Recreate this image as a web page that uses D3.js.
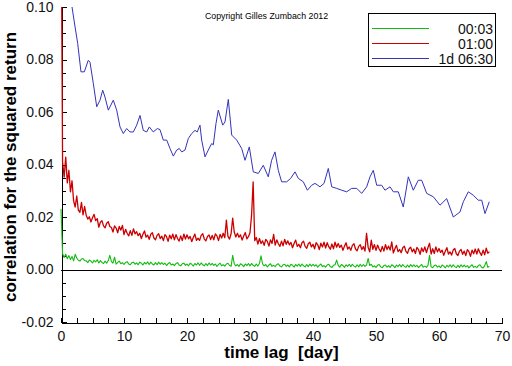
<!DOCTYPE html>
<html>
<head>
<meta charset="utf-8">
<script src="https://cdn.jsdelivr.net/npm/d3@7"></script>
<style>
  body { margin: 0; background: #fff; }
  svg { font-family: "Liberation Sans", Arial, sans-serif; }
</style>
</head>
<body>
<svg id="chart" width="512" height="366"></svg>
<script>
// axis ticks
var xTicks = [0, 10, 20, 30, 40, 50, 60, 70];
var yTicks = [-0.02, 0.00, 0.02, 0.04, 0.06, 0.08, 0.10];
var yTickLabels = ["-0.02", "0.00", "0.02", "0.04", "0.06", "0.08", "0.10"];

var seriesNames = ["00:03", "01:00", "1d 06:30"];

// lag step (days) of the dense series
var lagStep = 0.25;

// 00:03 return, one value every 0.25 day from lag 0
var greenValues = [
  0.0230, 0.0060, 0.0046, 0.0058, 0.0041, 0.0053, 0.0038, 0.0050,
  0.0033, 0.0058, 0.0044, 0.0035, 0.0032, 0.0040, 0.0042, 0.0034,
  0.0033, 0.0026, 0.0036, 0.0032, 0.0025, 0.0035, 0.0029, 0.0037,
  0.0025, 0.0034, 0.0027, 0.0023, 0.0032, 0.0024, 0.0034, 0.0054,
  0.0031, 0.0024, 0.0047, 0.0020, 0.0027, 0.0032, 0.0022, 0.0026,
  0.0019, 0.0027, 0.0030, 0.0021, 0.0018, 0.0026, 0.0028, 0.0020,
  0.0025, 0.0018, 0.0028, 0.0024, 0.0017, 0.0027, 0.0021, 0.0029,
  0.0019, 0.0028, 0.0021, 0.0017, 0.0026, 0.0018, 0.0028, 0.0020,
  0.0026, 0.0019, 0.0024, 0.0015, 0.0022, 0.0027, 0.0017, 0.0021,
  0.0015, 0.0023, 0.0026, 0.0017, 0.0014, 0.0022, 0.0024, 0.0016,
  0.0021, 0.0014, 0.0024, 0.0020, 0.0013, 0.0023, 0.0017, 0.0025,
  0.0016, 0.0025, 0.0018, 0.0014, 0.0023, 0.0015, 0.0025, 0.0017,
  0.0023, 0.0016, 0.0021, 0.0012, 0.0019, 0.0024, 0.0014, 0.0018,
  0.0013, 0.0021, 0.0024, 0.0015, 0.0012, 0.0054, 0.0022, 0.0014,
  0.0019, 0.0012, 0.0022, 0.0018, 0.0011, 0.0021, 0.0015, 0.0023,
  0.0014, 0.0023, 0.0016, 0.0012, 0.0021, 0.0013, 0.0023, 0.0052,
  0.0021, 0.0014, 0.0019, 0.0010, 0.0017, 0.0022, 0.0012, 0.0016,
  0.0011, 0.0019, 0.0022, 0.0013, 0.0010, 0.0018, 0.0020, 0.0012,
  0.0017, 0.0010, 0.0020, 0.0016, 0.0009, 0.0019, 0.0013, 0.0021,
  0.0012, 0.0021, 0.0014, 0.0010, 0.0019, 0.0011, 0.0021, 0.0013,
  0.0020, 0.0013, 0.0018, 0.0009, 0.0016, 0.0021, 0.0011, 0.0015,
  0.0009, 0.0017, 0.0020, 0.0011, 0.0008, 0.0016, 0.0018, 0.0036,
  0.0016, 0.0009, 0.0019, 0.0015, 0.0008, 0.0018, 0.0012, 0.0020,
  0.0011, 0.0020, 0.0013, 0.0009, 0.0018, 0.0010, 0.0020, 0.0012,
  0.0019, 0.0012, 0.0017, 0.0042, 0.0015, 0.0020, 0.0010, 0.0014,
  0.0008, 0.0016, 0.0019, 0.0010, 0.0007, 0.0015, 0.0017, 0.0009,
  0.0015, 0.0008, 0.0018, 0.0014, 0.0007, 0.0017, 0.0011, 0.0019,
  0.0010, 0.0019, 0.0012, 0.0008, 0.0017, 0.0009, 0.0019, 0.0011,
  0.0018, 0.0011, 0.0016, 0.0007, 0.0014, 0.0019, 0.0009, 0.0013,
  0.0008, 0.0016, 0.0054, 0.0010, 0.0007, 0.0015, 0.0017, 0.0009,
  0.0014, 0.0007, 0.0017, 0.0013, 0.0006, 0.0016, 0.0010, 0.0018,
  0.0009, 0.0018, 0.0011, 0.0007, 0.0016, 0.0008, 0.0018, 0.0010,
  0.0017, 0.0010, 0.0015, 0.0006, 0.0013, 0.0018, 0.0008, 0.0012,
  0.0007, 0.0015, 0.0018, 0.0009, 0.0006, 0.0014, 0.0030, 0.0008,
  0.0013
];

// 01:00 return, one value every 0.25 day from lag 0
var redValues = [
  0.1500, 0.0410, 0.0352, 0.0428, 0.0330, 0.0378, 0.0296, 0.0338,
  0.0262, 0.0238, 0.0280, 0.0226, 0.0218, 0.0256, 0.0208, 0.0240,
  0.0207, 0.0192, 0.0201, 0.0181, 0.0197, 0.0210, 0.0186, 0.0194,
  0.0161, 0.0180, 0.0186, 0.0166, 0.0159, 0.0176, 0.0182, 0.0164,
  0.0160, 0.0143, 0.0166, 0.0158, 0.0140, 0.0164, 0.0150, 0.0168,
  0.0133, 0.0153, 0.0138, 0.0128, 0.0148, 0.0130, 0.0155, 0.0136,
  0.0144, 0.0129, 0.0138, 0.0118, 0.0134, 0.0147, 0.0123, 0.0131,
  0.0115, 0.0134, 0.0140, 0.0120, 0.0113, 0.0130, 0.0136, 0.0118,
  0.0127, 0.0110, 0.0133, 0.0125, 0.0107, 0.0131, 0.0117, 0.0135,
  0.0113, 0.0133, 0.0118, 0.0108, 0.0128, 0.0110, 0.0135, 0.0116,
  0.0132, 0.0117, 0.0126, 0.0106, 0.0122, 0.0135, 0.0111, 0.0119,
  0.0111, 0.0130, 0.0136, 0.0116, 0.0109, 0.0126, 0.0132, 0.0114,
  0.0130, 0.0113, 0.0136, 0.0128, 0.0110, 0.0134, 0.0120, 0.0138,
  0.0121, 0.0188, 0.0126, 0.0116, 0.0136, 0.0196, 0.0143, 0.0124,
  0.0138, 0.0123, 0.0132, 0.0112, 0.0128, 0.0141, 0.0117, 0.0125,
  0.0140, 0.0207, 0.0334, 0.0110, 0.0122, 0.0097, 0.0118, 0.0099,
  0.0109, 0.0092, 0.0115, 0.0107, 0.0089, 0.0113, 0.0099, 0.0134,
  0.0093, 0.0113, 0.0098, 0.0088, 0.0108, 0.0090, 0.0115, 0.0096,
  0.0109, 0.0094, 0.0103, 0.0083, 0.0099, 0.0112, 0.0088, 0.0096,
  0.0083, 0.0102, 0.0108, 0.0088, 0.0081, 0.0098, 0.0104, 0.0086,
  0.0096, 0.0079, 0.0102, 0.0094, 0.0076, 0.0100, 0.0086, 0.0104,
  0.0082, 0.0102, 0.0087, 0.0077, 0.0097, 0.0079, 0.0104, 0.0085,
  0.0099, 0.0084, 0.0093, 0.0073, 0.0089, 0.0102, 0.0078, 0.0086,
  0.0073, 0.0092, 0.0098, 0.0078, 0.0071, 0.0088, 0.0094, 0.0076,
  0.0087, 0.0070, 0.0138, 0.0085, 0.0067, 0.0112, 0.0077, 0.0095,
  0.0073, 0.0093, 0.0078, 0.0068, 0.0088, 0.0070, 0.0095, 0.0076,
  0.0089, 0.0074, 0.0105, 0.0063, 0.0079, 0.0092, 0.0068, 0.0076,
  0.0064, 0.0083, 0.0089, 0.0069, 0.0062, 0.0079, 0.0085, 0.0067,
  0.0078, 0.0061, 0.0084, 0.0076, 0.0058, 0.0082, 0.0068, 0.0086,
  0.0064, 0.0084, 0.0100, 0.0059, 0.0079, 0.0061, 0.0086, 0.0067,
  0.0080, 0.0065, 0.0074, 0.0054, 0.0070, 0.0083, 0.0059, 0.0067,
  0.0055, 0.0074, 0.0080, 0.0060, 0.0053, 0.0070, 0.0076, 0.0058,
  0.0070, 0.0053, 0.0076, 0.0068, 0.0050, 0.0074, 0.0060, 0.0078,
  0.0059, 0.0079, 0.0064, 0.0054, 0.0074, 0.0056, 0.0081, 0.0062,
  0.0068
];

// 1d 06:30 return, read point by point
var blueLags = [
  1.55, 1.75, 2.11, 2.65, 3.17, 3.70, 4.33, 4.60, 5.13, 5.67,
  6.19, 6.62, 6.98, 7.51, 8.30, 8.84, 9.37, 9.89, 10.43, 10.95,
  11.48, 12.02, 12.54, 13.06, 13.60, 14.02, 14.65, 15.29, 15.71, 16.24,
  16.78, 17.30, 17.83, 18.36, 18.78, 19.16, 19.68, 20.21, 20.75, 21.27,
  21.63, 22.06, 22.33, 22.86, 23.38, 23.92, 24.18, 24.60, 24.97, 25.67,
  26.03, 26.56, 27.10, 27.89, 28.68, 29.21, 29.89, 30.52, 31.32, 32.11,
  32.90, 33.43, 33.97, 34.49, 35.02, 35.82, 36.46, 37.14, 37.67, 38.46,
  39.11, 39.79, 40.32, 41.11, 41.75, 42.43, 42.97, 43.76, 44.56, 45.35,
  46.14, 46.94, 47.73, 48.52, 49.05, 49.57, 50.11, 50.90, 51.43, 52.22,
  52.75, 53.54, 54.33, 55.13, 55.92, 56.71, 57.25, 58.05, 59.10, 60.16,
  61.22, 62.27, 63.33, 63.86, 64.65, 65.44, 66.24, 66.78, 67.30, 67.98
];
var blueValues = [
  0.1045, 0.1000, 0.0943, 0.0861, 0.0753, 0.0753, 0.0797, 0.0790, 0.0709, 0.0620,
  0.0645, 0.0683, 0.0657, 0.0607, 0.0645, 0.0607, 0.0543, 0.0518, 0.0537, 0.0524,
  0.0524, 0.0550, 0.0587, 0.0530, 0.0524, 0.0543, 0.0524, 0.0537, 0.0533, 0.0493,
  0.0493, 0.0461, 0.0432, 0.0455, 0.0461, 0.0448, 0.0455, 0.0499, 0.0518, 0.0530,
  0.0524, 0.0550, 0.0493, 0.0429, 0.0455, 0.0480, 0.0475, 0.0556, 0.0607, 0.0550,
  0.0562, 0.0648, 0.0512, 0.0493, 0.0461, 0.0416, 0.0467, 0.0372, 0.0366, 0.0397,
  0.0353, 0.0416, 0.0448, 0.0378, 0.0334, 0.0334, 0.0347, 0.0372, 0.0347, 0.0334,
  0.0302, 0.0321, 0.0328, 0.0315, 0.0328, 0.0385, 0.0315, 0.0309, 0.0302, 0.0296,
  0.0309, 0.0309, 0.0290, 0.0315, 0.0353, 0.0378, 0.0321, 0.0321, 0.0302, 0.0315,
  0.0296, 0.0296, 0.0238, 0.0353, 0.0302, 0.0340, 0.0340, 0.0290, 0.0277, 0.0245,
  0.0270, 0.0200, 0.0219, 0.0258, 0.0296, 0.0283, 0.0264, 0.0264, 0.0213, 0.0258
];

var colors = ["#11bb11", "#cc0000", "#3333bb"];
var widths = [1.1, 1.3, 1];

var svg = d3.select("#chart");

var x = d3.scaleLinear().domain([0, 70]).range([61, 502]);
var y = d3.scaleLinear().domain([-0.02, 0.10]).range([322, 7]);

// clip to plot area (a pixel wider on the left so lag 0 shows on the axis)
svg.append("clipPath").attr("id", "plot")
  .append("rect")
  .attr("x", x(0) - 1).attr("y", y(0.10))
  .attr("width", x(70) - x(0) + 1).attr("height", y(-0.02) - y(0.10));

var greenData = greenValues.map((v, i) => [i * lagStep, v]);
var redData = redValues.map((v, i) => [i * lagStep, v]);
var blueData = blueValues.map((v, i) => [blueLags[i], v]);

var line = d3.line().x(d => x(d[0])).y(d => y(d[1]));

// zero line
svg.append("line")
  .attr("x1", x(0)).attr("x2", x(70))
  .attr("y1", Math.round(y(0)) + 0.5).attr("y2", Math.round(y(0)) + 0.5)
  .attr("stroke", "#000").attr("stroke-width", 1)
  .attr("shape-rendering", "crispEdges");

// axes
var xAxis = d3.axisBottom(x).tickValues(xTicks).tickSize(-5).tickSizeOuter(0).tickPadding(9);
var xMinor = d3.axisBottom(x).tickValues(d3.range(0, 70.01, 2.5)).tickSize(-5).tickSizeOuter(0).tickFormat("");
var yAxis = d3.axisLeft(y).tickValues(yTicks).tickSize(-5).tickSizeOuter(0).tickPadding(8)
  .tickFormat((d, i) => yTickLabels[i]);
var yMinor = d3.axisLeft(y).tickValues(d3.range(-0.02, 0.1001, 0.005)).tickSize(-4).tickSizeOuter(0).tickFormat("");

function styleAxis(g) {
  g.attr("shape-rendering", "crispEdges");
  g.selectAll("path, line").attr("stroke", "#000");
  g.selectAll("text")
    .attr("fill", "#111")
    .style("font-size", "14px")
    .style("font-family", "'Liberation Sans', Arial, sans-serif");
}

svg.append("g").attr("transform", "translate(0,322.5)").call(xMinor).call(styleAxis);
svg.append("g").attr("transform", "translate(0,322.5)").call(xAxis).call(styleAxis);
svg.append("g").attr("transform", "translate(61.5,0)").call(yMinor).call(styleAxis);
svg.append("g").attr("transform", "translate(61.5,0)").call(yAxis).call(styleAxis);

// series drawn over the axes, as in the original
var series = svg.append("g").attr("clip-path", "url(#plot)");
[greenData, redData, blueData].forEach(function(d, i) {
  series.append("path")
    .datum(d)
    .attr("fill", "none")
    .attr("stroke", colors[i])
    .attr("stroke-width", widths[i])
    .attr("stroke-linejoin", "round")
    .attr("d", line);
});

// axis titles
svg.append("text")
  .attr("x", 281.5).attr("y", 358)
  .attr("text-anchor", "middle")
  .style("font-size", "17px").style("font-weight", "bold")
  .style("white-space", "pre")
  .text("time lag  [day]");

svg.append("text")
  .attr("transform", "translate(16,167) rotate(-90)")
  .attr("text-anchor", "middle")
  .style("font-size", "17px").style("font-weight", "bold")
  .text("correlation for the squared return");

// copyright
svg.append("text")
  .attr("x", 266.5).attr("y", 18.5)
  .attr("text-anchor", "middle")
  .style("font-size", "8.8px")
  .text("Copyright Gilles Zumbach 2012");

// legend
var legend = svg.append("g");
legend.append("rect")
  .attr("x", 368.5).attr("y", 13.5).attr("width", 127).attr("height", 53)
  .attr("fill", "#fff").attr("stroke", "#000").attr("stroke-width", 1)
  .attr("shape-rendering", "crispEdges");
var rowY = [28.5, 43.5, 58.5];
seriesNames.forEach(function(name, i) {
  legend.append("line")
    .attr("x1", 372).attr("x2", 429)
    .attr("y1", rowY[i]).attr("y2", rowY[i])
    .attr("stroke", colors[i]).attr("stroke-width", 1)
    .attr("shape-rendering", "crispEdges");
  legend.append("text")
    .attr("x", 493).attr("y", rowY[i] + 5)
    .attr("text-anchor", "end")
    .style("font-size", "14px")
    .attr("fill", "#111")
    .text(name);
});
</script>
</body>
</html>
